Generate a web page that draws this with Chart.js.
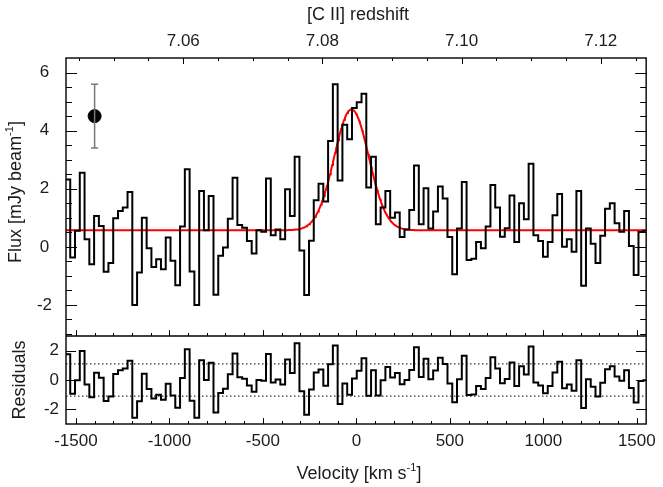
<!DOCTYPE html>
<html>
<head>
<meta charset="utf-8">
<script src="https://cdn.jsdelivr.net/npm/chart.js@4.4.1/dist/chart.umd.min.js"></script>
<style>
  html, body { margin: 0; padding: 0; background: #fff; }
  #wrap { width: 663px; height: 487px; }
</style>
</head>
<body>
<div id="wrap"><canvas id="spec" width="663" height="487"></canvas></div>
<script>
// channels (km/s): left edge of the first channel and channel width
const channelStart = -1555.9;
const channelWidth = 25.54;

// flux density per channel [mJy/beam]
const flux = [
  2.32, -0.37, 0.55, 2.55, 0.26, -0.60, 1.06, 0.72, -0.86, -0.56,
  0.98, 1.23, 1.35, 1.89, -2.00, -0.88, 1.00, -0.05, -0.69, -0.43,
  -0.77, 0.32, -0.48, -1.32, 0.70, 2.67, -0.85, -2.00, 1.92, 0.57,
  1.75, -1.65, -0.31, -0.02, 0.97, 2.38, 0.75, 0.66, 0.20, -0.23,
  0.57, 0.52, 2.35, 0.40, 0.60, 0.26, 1.98, 1.06, 3.10, -0.13,
  -1.66, 0.21, 1.60, 2.17, 1.56, 3.64, 5.60, 2.28, 4.20, 3.70,
  4.78, 4.98, 5.27, 2.04, 3.10, 0.78, 1.35, 1.92, 1.00, 1.18,
  0.34, 0.60, 1.27, 2.80, 0.78, 2.02, 0.63, 1.22, 2.08, 1.66,
  0.34, -0.94, 0.63, 2.23, -0.45, -0.41, 0.17, -0.05, 0.70, 2.13,
  1.35, 0.35, 0.64, 1.77, 0.17, 1.50, 0.95, 2.86, 0.40, 0.20,
  -0.34, 0.17, 1.09, 1.82, 0.00, 0.26, -0.17, 1.92, -1.34, 0.63,
  0.11, -0.56, 0.38, 1.31, 1.50, 0.81, 0.52, 1.23, 0.03, -0.97,
  0.51, 0.55
];

// gaussian fit
const fitBaseline = 0.57;
const fitPeak = 4.16;
const fitCenter = -26;
const fitSigma = 92.7;

// 1 sigma noise (error bar and dotted lines)
const noiseRms = 1.1;
const errPoint = { x: -1400, y: 4.5 };

// axes
const velRange = [-1553, 1550];
const fluxRange = [-3.07, 6.5];
const residRange = [-3, 3];
const velTicks = [-1500, -1000, -500, 0, 500, 1000, 1500];
const zTicks = [7.06, 7.08, 7.10, 7.12];
const fluxTicks = [-2, 0, 2, 4, 6];
const residTicks = [-2, 0, 2];
const zAtZero = 7.08488;
const zPerKms = 2.687e-5;

const zOf = v => zAtZero + v * zPerKms;
const model = v => fitBaseline + fitPeak * Math.exp(-0.5 * Math.pow((v - fitCenter) / fitSigma, 2));

// step points at channel edges
const edges = flux.map((f, i) => channelStart + i * channelWidth);
edges.push(channelStart + flux.length * channelWidth);
const fluxSteps = edges.map((v, i) => ({ x: v, y: flux[Math.min(i, flux.length - 1)] }));
const resid = flux.map((f, i) => f - model(edges[i] + channelWidth / 2));
const residSteps = edges.map((v, i) => ({ x: v, y: resid[Math.min(i, resid.length - 1)] }));
const fitLine = [];
for (let v = velRange[0]; v <= velRange[1]; v += 4) fitLine.push({ x: v, y: model(v) });

const FONT = "'Liberation Sans', Arial, Helvetica, sans-serif";
const INK = '#1c1c1c';

function supTitle(ctx, pre, sup, post, x, y, angle) {
  ctx.save();
  ctx.translate(x, y);
  ctx.rotate(angle);
  ctx.fillStyle = INK;
  ctx.textBaseline = 'alphabetic';
  ctx.textAlign = 'left';
  ctx.font = '18px ' + FONT;
  const w1 = ctx.measureText(pre).width, w3 = ctx.measureText(post).width;
  ctx.font = '11px ' + FONT;
  const w2 = sup ? ctx.measureText(sup).width : 0;
  let cx = -(w1 + w2 + w3) / 2;
  ctx.font = '18px ' + FONT;
  ctx.fillText(pre, cx, 0); cx += w1;
  if (sup) { ctx.font = '11px ' + FONT; ctx.fillText(sup, cx, -8); cx += w2; }
  ctx.font = '18px ' + FONT;
  ctx.fillText(post, cx, 0);
  ctx.restore();
}

const frame = {
  id: 'frame',
  afterDatasetsDraw(chart) {
    const { ctx, chartArea: a, scales } = chart;
    const { x, x2, y, yr } = scales;
    const seg = (x0, y0, x1, y1) => { ctx.beginPath(); ctx.moveTo(x0, y0); ctx.lineTo(x1, y1); ctx.stroke(); };
    ctx.save();
    ctx.strokeStyle = '#000';
    ctx.lineWidth = 1;
    // velocity ticks on both panel bottoms
    for (let v = -1500; v <= 1500; v += 100) {
      const px = Math.round(x.getPixelForValue(v)) + 0.5;
      const len = v % 500 === 0 ? 6 : 3;
      seg(px, y.bottom, px, y.bottom - len);
      seg(px, yr.bottom, px, yr.bottom - len);
    }
    // redshift ticks on top
    for (let n = Math.ceil(x2.min / 0.005); n * 0.005 <= x2.max; n++) {
      const px = Math.round(x2.getPixelForValue(n * 0.005)) + 0.5;
      const len = n % 4 === 0 ? 6 : 3;
      seg(px, a.top, px, a.top + len);
    }
    // flux ticks
    for (let n = Math.ceil(y.min / 0.5); n * 0.5 < y.max; n++) {
      const py = Math.round(y.getPixelForValue(n * 0.5)) + 0.5;
      const len = n % 4 === 0 ? 11 : 6;
      seg(a.left, py, a.left + len, py);
      seg(a.right, py, a.right - len, py);
    }
    // residual ticks
    residTicks.forEach(t => {
      const py = Math.round(yr.getPixelForValue(t)) + 0.5;
      seg(a.left, py, a.left + 10, py);
      seg(a.right, py, a.right - 10, py);
    });
    ctx.lineWidth = 1.4;
    ctx.strokeRect(a.left, a.top, a.right - a.left, a.bottom - a.top);
    seg(a.left, y.bottom, a.right, y.bottom);
    ctx.restore();
  },
  afterDraw(chart) {
    const { ctx } = chart;
    supTitle(ctx, '[C II] redshift', '', '', 358, 20, 0);
    supTitle(ctx, 'Velocity [km s', '-1', ']', 359, 479, 0);
    supTitle(ctx, 'Flux [mJy beam', '-1', ']', 21, 192, -Math.PI / 2);
    supTitle(ctx, 'Residuals', '', '', 25, 380, -Math.PI / 2);
  }
};

const setTicks = list => scale => { scale.ticks = list.map(v => ({ value: v })); };
const noGrid = { display: false, drawTicks: false };
const tickFont = { family: FONT, size: 17 };
const plain = v => String(v);

new Chart(document.getElementById('spec'), {
  type: 'line',
  data: {
    datasets: [
      { data: fluxSteps, xAxisID: 'x', yAxisID: 'y', stepped: true, borderColor: '#000', borderWidth: 2, pointRadius: 0, clip: 0 },
      { data: fitLine, xAxisID: 'x', yAxisID: 'y', borderColor: '#f00', borderWidth: 2, pointRadius: 0, clip: 0 },
      { data: [{ x: errPoint.x, y: errPoint.y - noiseRms }, { x: errPoint.x, y: errPoint.y + noiseRms }],
        xAxisID: 'x', yAxisID: 'y', borderColor: '#777', borderWidth: 1.5,
        pointStyle: 'line', pointRadius: 3.5, pointBorderColor: '#777', pointBorderWidth: 1.5 },
      { data: [errPoint], xAxisID: 'x', yAxisID: 'y', showLine: false,
        pointRadius: 6.5, pointBackgroundColor: '#000', pointBorderColor: '#000' },
      { data: residSteps, xAxisID: 'x', yAxisID: 'yr', stepped: true, borderColor: '#000', borderWidth: 2, pointRadius: 0, clip: 0 },
      { data: velRange.map(v => ({ x: v, y: noiseRms })), xAxisID: 'x', yAxisID: 'yr',
        borderColor: '#000', borderWidth: 1, borderDash: [1.5, 2.5], pointRadius: 0 },
      { data: velRange.map(v => ({ x: v, y: -noiseRms })), xAxisID: 'x', yAxisID: 'yr',
        borderColor: '#000', borderWidth: 1, borderDash: [1.5, 2.5], pointRadius: 0 }
    ]
  },
  options: {
    responsive: false,
    animation: false,
    devicePixelRatio: 1,
    layout: { padding: { left: 0, right: 10, top: 0, bottom: 0 } },
    plugins: { legend: { display: false }, tooltip: { enabled: false } },
    scales: {
      x: {
        type: 'linear', position: 'bottom', min: velRange[0], max: velRange[1],
        grid: noGrid, border: { display: false },
        ticks: { font: tickFont, color: INK, padding: 7, maxRotation: 0, callback: plain },
        afterBuildTicks: setTicks(velTicks),
        afterFit: s => { s.height = 63; }
      },
      x2: {
        type: 'linear', position: 'top', min: zOf(velRange[0]), max: zOf(velRange[1]),
        grid: noGrid, border: { display: false },
        ticks: { font: tickFont, color: INK, padding: 6, maxRotation: 0, callback: v => v.toFixed(2) },
        afterBuildTicks: setTicks(zTicks),
        afterFit: s => { s.height = 58; }
      },
      y: {
        type: 'linear', position: 'left', stack: 'panels', stackWeight: 3.16, weight: 2,
        min: fluxRange[0], max: fluxRange[1],
        grid: noGrid, border: { display: false },
        ticks: { font: tickFont, color: INK, padding: 14, crossAlign: 'center', callback: plain },
        afterBuildTicks: setTicks(fluxTicks),
        afterFit: s => { s.width = 66; }
      },
      yr: {
        type: 'linear', position: 'left', stack: 'panels', stackWeight: 1, weight: 1,
        min: residRange[0], max: residRange[1],
        grid: noGrid, border: { display: false },
        ticks: { font: tickFont, color: INK, padding: 7, callback: plain },
        afterBuildTicks: setTicks(residTicks),
        afterFit: s => { s.width = 66; }
      }
    }
  },
  plugins: [frame]
});
</script>
</body>
</html>
